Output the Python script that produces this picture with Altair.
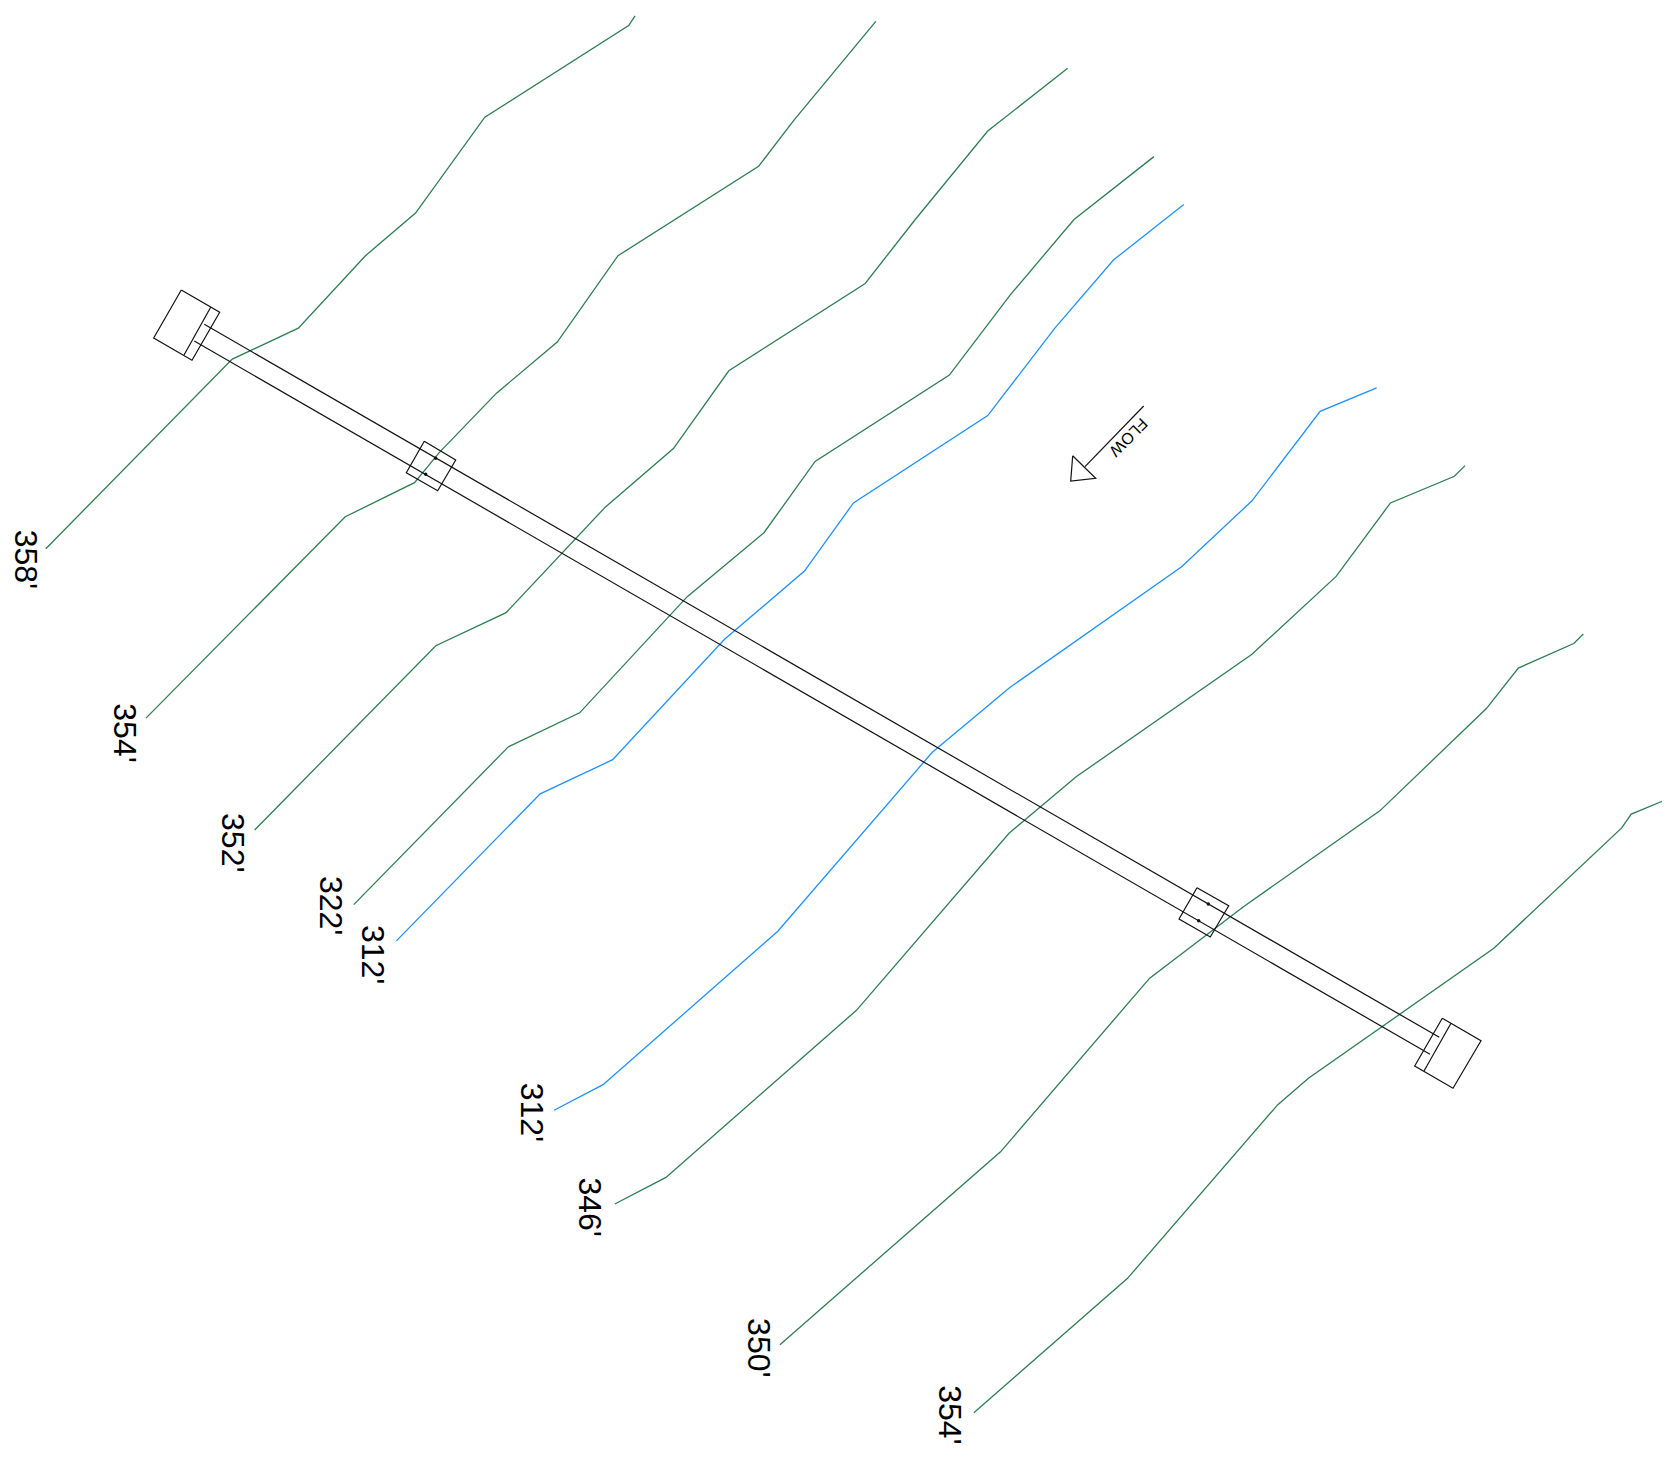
import altair as alt
import pandas as pd

UNIT = 1.0655

green_lines = [
    [(43,515),(218,337),(280,308),(343,240),(390,200),(455,110),(590,24),(596,15)],
    [(137,674),(324,485),(389,453),(412,425),(466,369),(523,321),(580,240),(712,156),(745,113),(822,20)],
    [(239,779),(409,606),(475,575),(568,476),(632,421),(684,348),(812,266),(859,206),(927,123),(1002,64)],
    [(332,849),(477,701),(544,669),(645,560),(717,500),(765,433),(891,352),(948,277),(1008,206),(1083,147)],
    [(577,1130),(625,1105),(804,948),(947,782),(1010,729),(1175,614),(1254,541),(1305,472),(1365,447),(1375,437)],
    [(732,1262),(939,1081),(1079,918),(1167,851),(1295,761),(1395,665),(1425,627),(1477,604),(1486,595)],
    [(914,1326),(1058,1200),(1199,1037),(1228,1012),(1402,890),(1522,777),(1531,764),(1560,752)],
]
blue_lines = [
    [(372,883),(507,745),(575,713),(680,600),(755,536),(801,472),(927,390),(990,308),(1045,244),(1111,192)],
    [(520,1042),(566,1018),(730,874),(875,706),(948,645),(1109,532),(1175,470),(1239,386),(1292,364)],
]
# culvert drawing, page units
black_lines = [
    [(204.3,324.3),(1439.3,1037.3)],
    [(194.3,341),(1430,1054.3)],
    [(181.3,290),(219.7,312.3),(192,360.3),(153.7,338),(181.3,290)],
    [(210.7,307.3),(184,355)],
    [(424.3,441.3),(455.7,460),(437.7,490.7),(406.3,472.7),(424.3,441.3)],
    [(1197,887.7),(1228.7,905.7),(1210.3,937),(1179,919),(1197,887.7)],
    [(1442.3,1018.3),(1481,1040.7),(1453,1088.3),(1414.7,1066),(1442.3,1018.3)],
    [(1451,1023.3),(1424,1071)],
    [(1143.7,406),(1085,466.7)],
    [(1072.7,455.7),(1095.7,478.3),(1070.7,481),(1072.7,455.7)],
]
dots = [(435.7,458.3),(425.7,474.3),(1208.3,904),(1198.7,920.7)]
label_text = ["358'","354'","352'","322'","312'","312'","346'","350'","354'"]
label_x = [23,116,218,310,349,498,553,711,891]
label_y = [525,688,791,850,896,1044,1133,1265,1328]
flow_text = ["FLOW"]
flow_x = [1128.3]
flow_y = [437]

def frame(lines, factor=1.0):
    rows = []
    for g, pts in enumerate(lines):
        for i, (x, y) in enumerate(pts):
            rows.append({"g": g, "i": i, "x": x * factor, "y": y * factor})
    return pd.DataFrame(rows)

W, H = 1654, 1455
xs = alt.Scale(domain=[8, 8 + W], nice=False, zero=False)
ys = alt.Scale(domain=[8 + H, 8], nice=False, zero=False)
X = alt.X("x:Q", scale=xs, axis=None)
Y = alt.Y("y:Q", scale=ys, axis=None)

def lines_layer(df, color, width=1.3):
    return alt.Chart(df).mark_line(color=color, strokeWidth=width, clip=False, strokeJoin="miter").encode(
        x=X, y=Y, detail="g:N", order="i:Q")

labels = pd.DataFrame({"t": label_text, "x": [v * UNIT for v in label_x], "y": [v * UNIT for v in label_y]})
flow = pd.DataFrame({"t": flow_text, "x": flow_x, "y": flow_y})
dot_df = pd.DataFrame(dots, columns=["x", "y"])

chart = alt.layer(
    lines_layer(frame(green_lines, UNIT), "#2e7d52"),
    lines_layer(frame(blue_lines, UNIT), "#1e90ff"),
    lines_layer(frame(black_lines), "#111111", 1.2),
    alt.Chart(dot_df).mark_point(filled=True, color="#111111", size=12, opacity=1).encode(x=X, y=Y),
    alt.Chart(labels).mark_text(angle=90, align="center", baseline="middle", font="Liberation Sans", fontSize=32, color="#000000").encode(x=X, y=Y, text="t:N"),
    alt.Chart(flow).mark_text(angle=135, align="center", baseline="middle", font="Liberation Sans", fontSize=16, color="#000000").encode(x=X, y=Y, text="t:N"),
).properties(width=W, height=H, padding=0, autosize=alt.AutoSizeParams(type="none")).configure_view(stroke=None)

chart.save("out.html", embed_options={"renderer": "svg", "actions": False})
